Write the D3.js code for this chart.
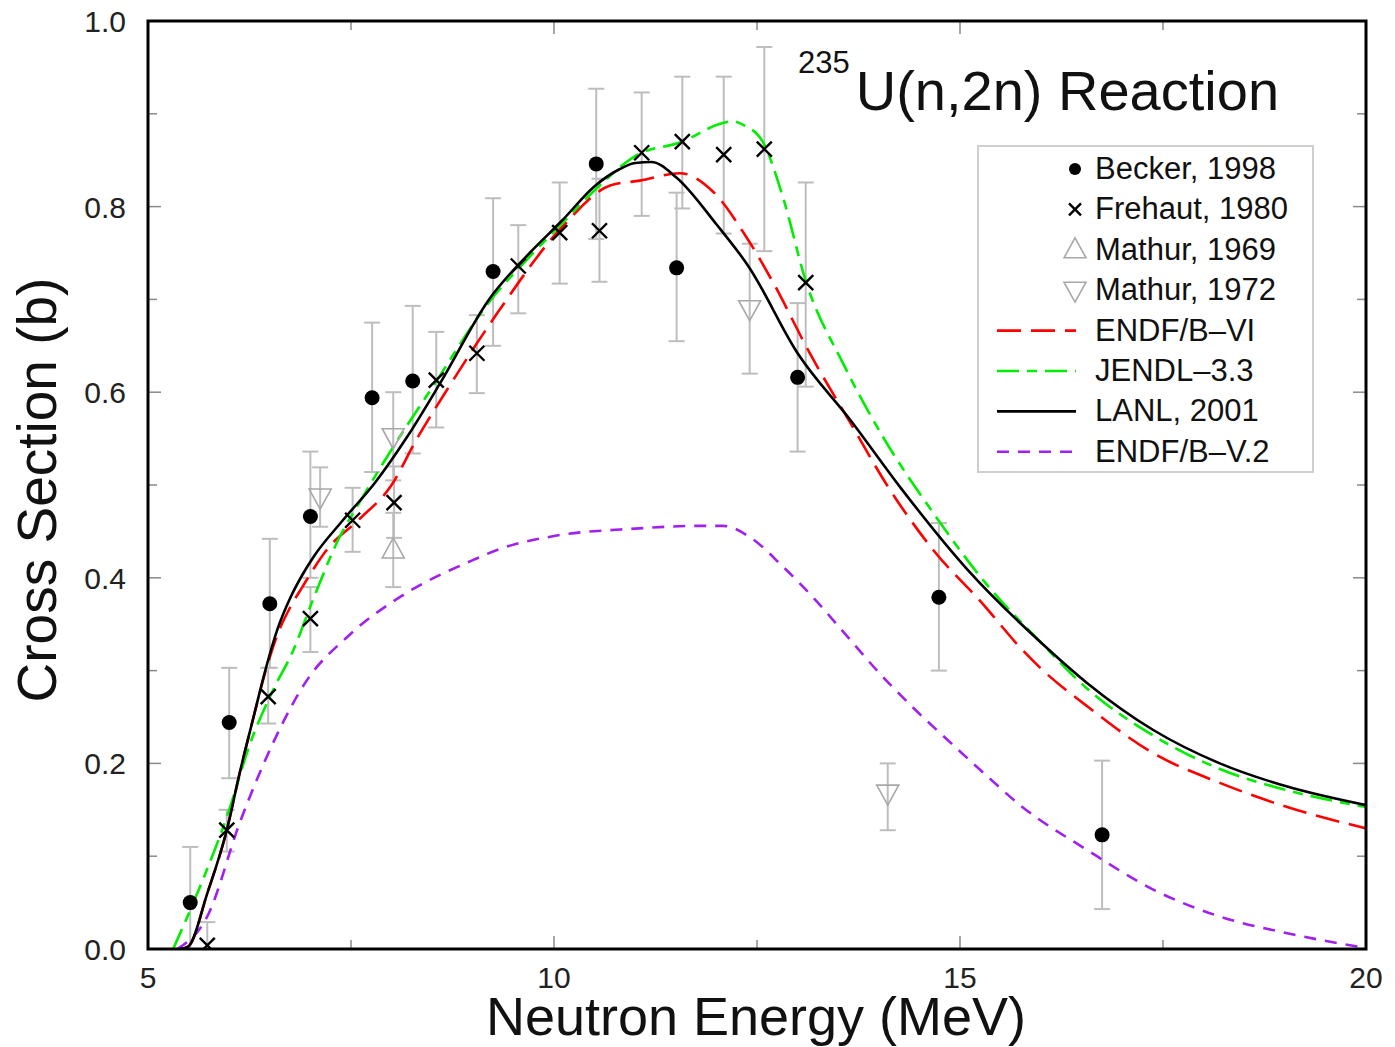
<!DOCTYPE html>
<html>
<head>
<meta charset="utf-8">
<script src="https://cdn.jsdelivr.net/npm/d3@7"></script>
<style>
  body { margin: 0; background: #fff; }
  svg { display: block; font-family: "Liberation Sans", Arial, Helvetica, sans-serif; }
</style>
</head>
<body>
<svg id="chart" width="1395" height="1047"></svg>
<script>
// U-235 (n,2n) cross section: evaluations vs measurements

// ---- evaluated curves [energy MeV, sigma b]
const lanl2001 = [
  [5.4,0],[5.5,0.003],[5.73,0.06],[5.97,0.128],[6.13,0.19],[6.3,0.25],[6.45,0.302],
  [6.6,0.346],[6.75,0.378],[6.9,0.403],[7.05,0.424],[7.4,0.462],[7.8,0.503],[8.2,0.553],[8.6,0.61],
  [9.2,0.7],[9.7,0.75],[10.1,0.785],[10.5,0.822],[10.8,0.84],[11.0,0.847],[11.2,0.848],
  [11.5,0.832],[12.0,0.781],[12.4,0.735],[13.0,0.642],[13.65,0.57],[14.26,0.498],
  [15.1,0.408],[16.0,0.33],[16.56,0.287],[17.38,0.236],[18.2,0.2],[19.03,0.175],[20,0.155]
];
const endfb6 = [
  [5.4,0],[5.5,0.003],[5.73,0.06],[5.97,0.128],[6.13,0.19],[6.3,0.25],[6.45,0.3],
  [6.6,0.34],[6.75,0.368],[6.9,0.39],[7.2,0.43],[7.6,0.463],[8.0,0.5],[8.3,0.548],[8.7,0.605],
  [9.3,0.685],[10.1,0.778],[10.7,0.823],[11.06,0.828],[11.55,0.836],[11.96,0.816],
  [12.37,0.767],[12.7,0.718],[13.15,0.642],[13.65,0.567],[14.1,0.5],[14.67,0.43],
  [15.28,0.372],[15.74,0.325],[16.0,0.302],[16.56,0.262],[17.38,0.211],[18.2,0.179],[19.03,0.153],[20,0.13]
];
const jendl33 = [
  [5.31,0],[5.52,0.042],[6.0,0.15],[6.26,0.222],[6.54,0.279],[6.79,0.322],[7.03,0.376],
  [7.36,0.444],[7.61,0.482],[8.02,0.541],[8.5,0.605],[9.2,0.697],[9.7,0.746],[10.1,0.782],
  [10.53,0.82],[11.03,0.856],[11.55,0.869],[12.08,0.89],[12.2,0.892],[12.33,0.888],
  [12.57,0.87],[12.82,0.81],[13.1,0.72],[13.56,0.631],[14.05,0.552],[14.67,0.47],
  [15.28,0.398],[16.0,0.33],[16.56,0.281],[17.38,0.230],[18.2,0.194],[19.03,0.171],[20,0.153]
];
const endfb5 = [
  [5.36,0],[5.73,0.035],[6.13,0.136],[6.54,0.222],[6.96,0.29],[7.45,0.336],[8.19,0.384],
  [9.0,0.419],[9.33,0.431],[10,0.445],[11,0.453],[11.8,0.456],[12.08,0.456],[12.41,0.444],
  [12.82,0.412],[13.2,0.378],[13.6,0.338],[14.0,0.298],[14.4,0.262],[14.9,0.221],
  [15.3,0.189],[15.74,0.155],[16.56,0.107],[17.38,0.064],[18.2,0.035],[19.03,0.017],[20,0.001]
];

// ---- measurements [energy, sigma, low, high]
const becker1998 = [
  [5.52,0.05,0.0,0.11],[6.0,0.244,0.184,0.303],[6.5,0.372,0.303,0.442],[7.0,0.466,0.40,0.536],
  [7.76,0.594,0.514,0.675],[8.26,0.612,0.534,0.693],[9.25,0.73,0.65,0.809],
  [10.52,0.846,0.765,0.927],[11.51,0.734,0.655,0.815],[13.0,0.616,0.536,0.696],
  [14.74,0.379,0.30,0.459],[16.75,0.123,0.043,0.203]
];
const frehaut1980 = [
  [5.73,0.004,0.0,0.029],[5.97,0.128,0.105,0.15],[6.48,0.272,0.243,0.303],[7.0,0.356,0.32,0.39],
  [7.52,0.462,0.428,0.497],[8.03,0.481,0.443,0.52],[8.55,0.613,0.562,0.665],[9.05,0.642,0.599,0.683],
  [9.56,0.736,0.685,0.78],[10.07,0.772,0.717,0.826],[10.56,0.774,0.719,0.83],[11.08,0.858,0.79,0.923],
  [11.58,0.87,0.798,0.94],[12.09,0.856,0.771,0.94],[12.59,0.862,0.752,0.972],[13.1,0.718,0.606,0.826]
];
const mathur1969 = [[8.02,0.43,0.39,0.47]];
const mathur1972 = [
  [7.12,0.487,0.455,0.519],[8.02,0.552,0.505,0.6],[12.41,0.69,0.62,0.76],[14.11,0.168,0.128,0.2]
];

const xTicks = [5, 10, 15, 20];
const yTicks = [0, 0.2, 0.4, 0.6, 0.8, 1.0];

const svg = d3.select("#chart");
const L = 148, R = 1366, T = 21, B = 949;

const x = d3.scaleLinear().domain([5, 20]).range([L, R]);
const y = d3.scaleLinear().domain([0, 1]).range([B, T]);

svg.append("defs").append("clipPath").attr("id", "clip")
  .append("rect").attr("x", L).attr("y", T).attr("width", R - L).attr("height", B - T);

// ---- ticks (inside the frame, all four sides)
const tickCol = "#8a8a8a";
const tk = svg.append("g").attr("stroke", tickCol).attr("stroke-width", 1.5);
d3.range(5, 20.01, 2.5).forEach(v => {
  const len = (v % 5 === 0) ? 13 : 9;
  tk.append("line").attr("x1", x(v)).attr("x2", x(v)).attr("y1", B).attr("y2", B - len);
  tk.append("line").attr("x1", x(v)).attr("x2", x(v)).attr("y1", T).attr("y2", T + len);
});
d3.range(0, 1.001, 0.1).forEach(v => {
  const len = (Math.round(v * 10) % 2 === 0) ? 13 : 9;
  tk.append("line").attr("y1", y(v)).attr("y2", y(v)).attr("x1", L).attr("x2", L + len);
  tk.append("line").attr("y1", y(v)).attr("y2", y(v)).attr("x1", R).attr("x2", R - len);
});

// ---- tick labels
svg.append("g").selectAll("text").data(yTicks).join("text")
  .attr("x", 126).attr("y", d => y(d) + 11)
  .attr("text-anchor", "end").style("font-size", "30px").attr("fill", "#222")
  .text(d => d3.format(".1f")(d));
svg.append("g").selectAll("text").data(xTicks).join("text")
  .attr("x", d => x(d)).attr("y", 988)
  .attr("text-anchor", "middle").style("font-size", "30px").attr("fill", "#222")
  .text(d => d);

// ---- axis titles
svg.append("text")
  .attr("x", 756).attr("y", 1035)
  .attr("text-anchor", "middle").style("font-size", "54px").attr("fill", "#111")
  .text("Neutron Energy (MeV)");
svg.append("text")
  .attr("transform", "translate(56,490) rotate(-90)")
  .attr("text-anchor", "middle").style("font-size", "55px").attr("fill", "#111")
  .text("Cross Section (b)");

// ---- plot title
const title = svg.append("text").attr("x", 798).attr("y", 110).attr("fill", "#111");
title.append("tspan").attr("dy", -37).style("font-size", "31px").text("235");
title.append("tspan").attr("dy", 37).attr("dx", 6).style("font-size", "56px").text("U(n,2n) Reaction");

// ---- error bars + markers
const plot = svg.append("g").attr("clip-path", "url(#clip)");
const errCol = "#bdbdbd";
function errorBars(data) {
  const g = plot.append("g").attr("stroke", errCol).attr("stroke-width", 2);
  data.forEach(d => {
    g.append("line").attr("x1", x(d[0])).attr("x2", x(d[0])).attr("y1", y(d[2])).attr("y2", y(d[3]));
    [d[2], d[3]].forEach(v => {
      if (v <= 0) return;
      g.append("line").attr("x1", x(d[0]) - 8).attr("x2", x(d[0]) + 8).attr("y1", y(v)).attr("y2", y(v));
    });
  });
}
[mathur1969, mathur1972, becker1998, frehaut1980].forEach(errorBars);

// ---- curves
const line = d3.line().x(d => x(d[0])).y(d => y(d[1])).curve(d3.curveMonotoneX);
const curves = [
  { data: endfb5,  color: "#a020f0", dash: "12,9" },
  { data: endfb6,  color: "#ff0000", dash: "24,10" },
  { data: jendl33, color: "#00ee00", dash: "22,8,10,8" },
  { data: lanl2001, color: "#000000", dash: null }
];
curves.forEach(c => {
  plot.append("path").datum(c.data)
    .attr("d", line).attr("fill", "none")
    .attr("stroke", c.color).attr("stroke-width", 2.6)
    .attr("stroke-dasharray", c.dash);
});

// marker helpers
const triUp = s => `M0,${-s*0.6}L${s*0.55},${s*0.4}L${-s*0.55},${s*0.4}Z`;
const triDn = s => `M0,${s*0.6}L${s*0.55},${-s*0.4}L${-s*0.55},${-s*0.4}Z`;
const cross = s => `M${-s},${-s}L${s},${s}M${-s},${s}L${s},${-s}`;

plot.append("g").selectAll("path").data(mathur1969).join("path")
  .attr("transform", d => `translate(${x(d[0])},${y(d[1])})`)
  .attr("d", triUp(20)).attr("fill", "none").attr("stroke", "#a8a8a8").attr("stroke-width", 1.6);
plot.append("g").selectAll("path").data(mathur1972).join("path")
  .attr("transform", d => `translate(${x(d[0])},${y(d[1])})`)
  .attr("d", triDn(20)).attr("fill", "none").attr("stroke", "#a8a8a8").attr("stroke-width", 1.6);
plot.append("g").selectAll("circle").data(becker1998).join("circle")
  .attr("cx", d => x(d[0])).attr("cy", d => y(d[1])).attr("r", 7.5).attr("fill", "#000");
plot.append("g").selectAll("path").data(frehaut1980).join("path")
  .attr("transform", d => `translate(${x(d[0])},${y(d[1])})`)
  .attr("d", cross(7.5)).attr("fill", "none").attr("stroke", "#000").attr("stroke-width", 2.4);

// ---- frame
svg.append("rect").attr("x", L).attr("y", T).attr("width", R - L).attr("height", B - T)
  .attr("fill", "none").attr("stroke", "#000").attr("stroke-width", 3);

// ---- legend
const leg = svg.append("g");
leg.append("rect").attr("x", 978).attr("y", 146).attr("width", 335).attr("height", 326)
  .attr("fill", "#fff").attr("stroke", "#cfcfcf").attr("stroke-width", 2);
const legItems = [
  { label: "Becker, 1998",  kind: "circle" },
  { label: "Frehaut, 1980", kind: "cross" },
  { label: "Mathur, 1969",  kind: "up" },
  { label: "Mathur, 1972",  kind: "down" },
  { label: "ENDF/B\u2013VI",  kind: "line", c: curves[1] },
  { label: "JENDL\u20133.3",  kind: "line", c: curves[2] },
  { label: "LANL, 2001",    kind: "line", c: curves[3] },
  { label: "ENDF/B\u2013V.2", kind: "line", c: curves[0] }
];
legItems.forEach((it, i) => {
  const cy = 169 + i * 40.4;
  const g = leg.append("g");
  if (it.kind === "circle") {
    g.append("circle").attr("cx", 1075).attr("cy", cy).attr("r", 6).attr("fill", "#000");
  } else if (it.kind === "cross") {
    g.append("path").attr("transform", `translate(1075,${cy})`).attr("d", cross(6))
      .attr("stroke", "#000").attr("stroke-width", 2.4);
  } else if (it.kind === "up" || it.kind === "down") {
    g.append("path").attr("transform", `translate(1075,${cy})`)
      .attr("d", it.kind === "up" ? triUp(20) : triDn(20))
      .attr("fill", "none").attr("stroke", "#a8a8a8").attr("stroke-width", 1.6);
  } else {
    g.append("line").attr("x1", 997).attr("x2", 1076).attr("y1", cy).attr("y2", cy)
      .attr("stroke", it.c.color).attr("stroke-width", 2.6).attr("stroke-dasharray", it.c.dash);
  }
  g.append("text").attr("x", 1095).attr("y", cy + 10)
    .style("font-size", "31px").attr("fill", "#111").text(it.label);
});
</script>
</body>
</html>
